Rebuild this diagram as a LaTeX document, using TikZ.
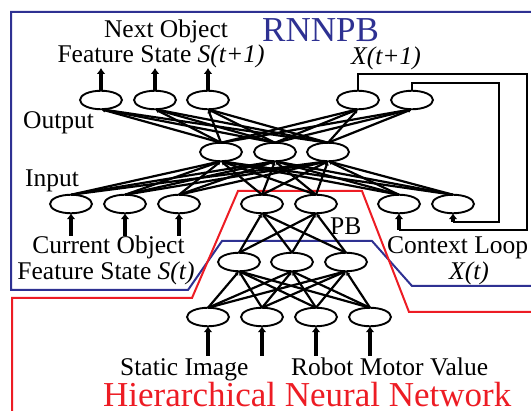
\documentclass[tikz,border=0pt]{standalone}
\usepackage{fontspec}
\setmainfont{Liberation Serif}
\usetikzlibrary{shapes.geometric,arrows.meta}
\definecolor{rnnblue}{HTML}{2E3192}
\definecolor{hnnred}{HTML}{ED1C24}
\begin{document}
\begin{tikzpicture}[x=1pt,y=-1pt,
  neuron/.style={ellipse, draw, line width=1.9pt, fill=white, minimum width=42pt, minimum height=18.5pt, inner sep=0pt, outer sep=0pt},
  conn/.style={line width=2.2pt, -{Latex[length=4pt,width=4.5pt]}},
  bigarrow/.style={line width=3.8pt, -{Latex[length=6pt,width=9pt]}},
  loopline/.style={line width=1.8pt},
  lbl/.style={font=\fontsize{25.5}{28}\selectfont, inner sep=0pt},
  biglbl/.style={font=\fontsize{35}{38}\selectfont, inner sep=0pt, anchor=base west},
  boxline/.style={line width=2pt}]
\useasboundingbox (0,0) rectangle (531,411);

% region outlines
\draw[boxline, rnnblue] (531,12) -- (11,12) -- (11,290) -- (188,290) -- (222,241) -- (372,241) -- (412,286) -- (531,286);
\draw[boxline, hnnred] (12,411) -- (12,298) -- (192,298) -- (238,191) -- (362,191) -- (409,312) -- (531,312);

% neurons
\foreach \n/\x in {o1/101,o2/155,o3/208,o4/358,o5/412}
  \node[neuron] (\n) at (\x,100) {};
\foreach \n/\x in {h1/221,h2/275,h3/328}
  \node[neuron] (\n) at (\x,152) {};
\foreach \n/\x in {i1/71,i2/125,i3/179,p1/262,p2/316,c1/399,c2/453}
  \node[neuron] (\n) at (\x,204) {};
\foreach \n/\x in {m1/239,m2/292,m3/346}
  \node[neuron] (\n) at (\x,262) {};
\foreach \n/\x in {b1/208,b2/262,b3/316,b4/370}
  \node[neuron] (\n) at (\x,317) {};

% connections
\foreach \a in {i1,i2,i3,p1,p2,c1,c2}
  \foreach \b in {h1,h2,h3}
    \draw[conn] (\a.north) -- (\b.south);
\foreach \a in {h1,h2,h3}
  \foreach \b in {o1,o2,o3,o4,o5}
    \draw[conn] (\a.north) -- (\b.south);
\foreach \a in {b1,b2,b3,b4}
  \foreach \b in {m1,m2,m3}
    \draw[conn] (\a.north) -- (\b.south);
\foreach \a in {m1,m2,m3}
  \foreach \b in {p1,p2}
    \draw[conn] (\a.north) -- (\b.south);

% outputs
\foreach \n/\x in {o1/101,o2/155,o3/208} {
  \coordinate (\n top) at (\x,68);
  \draw[bigarrow] (\n.north) -- (\n top);
}
% inputs
\foreach \n/\x in {i1/71,i2/125,i3/179} {
  \coordinate (\n bot) at (\x,236);
  \draw[bigarrow] (\n bot) -- (\n.south);
}
\foreach \n/\x in {b1/208,b2/262,b3/316,b4/370} {
  \coordinate (\n bot) at (\x,356);
  \draw[bigarrow] (\n bot) -- (\n.south);
}

% context loops
\coordinate (l1a) at (527,74);
\coordinate (l1b) at (527,230);
\coordinate (l1c) at (399,230);
\coordinate (l2a) at (499,83);
\coordinate (l2b) at (499,222);
\coordinate (l2c) at (453,222);
\draw[loopline] (o4.north) |- (l1a) -- (l1b) -- (l1c);
\draw[loopline] (o5.north) |- (l2a) -- (l2b) -- (l2c);
\draw[bigarrow] (l1c) -- (c1.south);
\draw[bigarrow] (l2c) -- (c2.south);

% labels
\node[lbl, anchor=base] (t1) at (166,38) {Next Object};
\node[lbl, anchor=base] (t2) at (161,63) {Feature State \textit{S(t+1)}};
\node[lbl, anchor=base west] (t3) at (23,129) {Output};
\node[lbl, anchor=base west] (t4) at (25,187) {Input};
\node[lbl, anchor=base] (t5) at (108.5,254) {Current Object};
\node[lbl, anchor=base] (t6) at (106,280) {Feature State \textit{S(t)}};
\node[biglbl, text=rnnblue] (t7) at (262,42) {RNNPB};
\node[lbl, anchor=base] (t8) at (386,65) {\textit{X(t+1)}};
\node[lbl, anchor=base west] (t9) at (330,235) {PB};
\node[lbl, anchor=base west] (t10) at (387,254) {Context Loop};
\node[lbl, anchor=base] (t11) at (469,280) {\textit{X(t)}};
\node[lbl, anchor=base west] (t12) at (120,376) {Static Image};
\node[lbl, anchor=base west] (t13) at (291,376) {Robot Motor Value};
\node[biglbl, text=hnnred] (t14) at (103,407) {Hierarchical Neural Network};
\end{tikzpicture}
\end{document}
